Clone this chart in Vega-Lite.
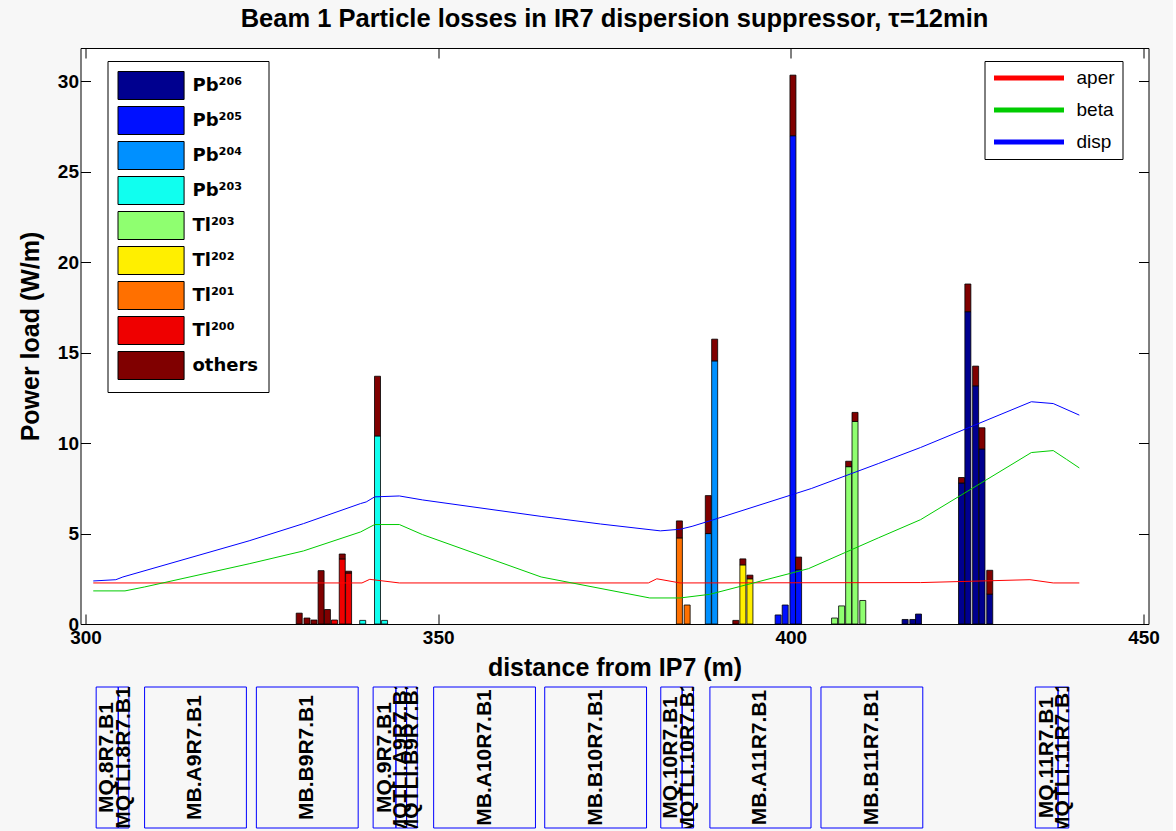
{
  "$schema": "https://vega.github.io/schema/vega-lite/v6.json",
  "background": "#f7f7f7",
  "padding": {"left": 17.5, "top": 6, "right": 12, "bottom": 5},
  "bounds": "flush",
  "spacing": 63,
  "title": {"text": "Beam 1 Particle losses in IR7 dispersion suppressor, τ=12min", "font": "Liberation Sans", "fontSize": 25.5, "fontWeight": "bold", "color": "black", "anchor": "middle", "frame": "group", "offset": 15},
  "config": {"font": "Liberation Sans"},
  "datasets": {
    "bars": [
      {"pos": 330.3, "sp": "others", "v": 0.6},
      {"pos": 331.4, "sp": "others", "v": 0.33},
      {"pos": 332.4, "sp": "others", "v": 0.22},
      {"pos": 333.4, "sp": "others", "v": 2.95},
      {"pos": 334.3, "sp": "others", "v": 0.8},
      {"pos": 335.3, "sp": "Tl²⁰⁰", "v": 0.22},
      {"pos": 336.4, "sp": "Tl²⁰⁰", "v": 3.6},
      {"pos": 336.4, "sp": "others", "v": 0.27},
      {"pos": 337.3, "sp": "Tl²⁰⁰", "v": 2.82},
      {"pos": 337.3, "sp": "others", "v": 0.1},
      {"pos": 339.3, "sp": "Pb²⁰³", "v": 0.2},
      {"pos": 341.4, "sp": "Pb²⁰³", "v": 10.4},
      {"pos": 341.4, "sp": "others", "v": 3.3},
      {"pos": 342.4, "sp": "Pb²⁰³", "v": 0.2},
      {"pos": 384.2, "sp": "Tl²⁰¹", "v": 4.76},
      {"pos": 384.2, "sp": "others", "v": 0.94},
      {"pos": 385.3, "sp": "Tl²⁰¹", "v": 1.05},
      {"pos": 388.3, "sp": "Pb²⁰⁴", "v": 5.0},
      {"pos": 388.3, "sp": "others", "v": 2.1},
      {"pos": 389.2, "sp": "Pb²⁰⁴", "v": 14.55},
      {"pos": 389.2, "sp": "others", "v": 1.2},
      {"pos": 392.2, "sp": "others", "v": 0.2},
      {"pos": 393.2, "sp": "Tl²⁰²", "v": 3.27},
      {"pos": 393.2, "sp": "others", "v": 0.33},
      {"pos": 394.2, "sp": "Tl²⁰²", "v": 2.5},
      {"pos": 394.2, "sp": "others", "v": 0.2},
      {"pos": 398.2, "sp": "Pb²⁰⁵", "v": 0.5},
      {"pos": 399.2, "sp": "Pb²⁰⁵", "v": 1.05},
      {"pos": 400.3, "sp": "Pb²⁰⁵", "v": 27.0},
      {"pos": 400.3, "sp": "others", "v": 3.35},
      {"pos": 401.1, "sp": "Pb²⁰⁵", "v": 3.0},
      {"pos": 401.1, "sp": "others", "v": 0.7},
      {"pos": 406.2, "sp": "Tl²⁰³", "v": 0.33},
      {"pos": 407.2, "sp": "Tl²⁰³", "v": 1.0},
      {"pos": 408.2, "sp": "Tl²⁰³", "v": 8.7},
      {"pos": 408.2, "sp": "others", "v": 0.3},
      {"pos": 409.1, "sp": "Tl²⁰³", "v": 11.2},
      {"pos": 409.1, "sp": "others", "v": 0.5},
      {"pos": 410.2, "sp": "Tl²⁰³", "v": 1.3},
      {"pos": 416.2, "sp": "Pb²⁰⁶", "v": 0.25},
      {"pos": 417.3, "sp": "Pb²⁰⁶", "v": 0.25},
      {"pos": 418.1, "sp": "Pb²⁰⁶", "v": 0.55},
      {"pos": 424.2, "sp": "Pb²⁰⁶", "v": 7.8},
      {"pos": 424.2, "sp": "others", "v": 0.3},
      {"pos": 425.1, "sp": "Pb²⁰⁶", "v": 17.27},
      {"pos": 425.1, "sp": "others", "v": 1.53},
      {"pos": 426.2, "sp": "Pb²⁰⁶", "v": 13.17},
      {"pos": 426.2, "sp": "others", "v": 1.09},
      {"pos": 427.1, "sp": "Pb²⁰⁶", "v": 9.68},
      {"pos": 427.1, "sp": "others", "v": 1.17},
      {"pos": 428.2, "sp": "Pb²⁰⁶", "v": 1.65},
      {"pos": 428.2, "sp": "others", "v": 1.32}
    ],
    "lines": [
      {"m": 301.1, "v": 2.27, "name": "aper"},
      {"m": 339.2, "v": 2.27, "name": "aper"},
      {"m": 340.3, "v": 2.47, "name": "aper"},
      {"m": 344.5, "v": 2.27, "name": "aper"},
      {"m": 379.8, "v": 2.27, "name": "aper"},
      {"m": 381.0, "v": 2.5, "name": "aper"},
      {"m": 384.3, "v": 2.27, "name": "aper"},
      {"m": 418.4, "v": 2.29, "name": "aper"},
      {"m": 433.9, "v": 2.45, "name": "aper"},
      {"m": 437.2, "v": 2.27, "name": "aper"},
      {"m": 440.9, "v": 2.27, "name": "aper"},
      {"m": 301.1, "v": 1.83, "name": "beta"},
      {"m": 305.6, "v": 1.83, "name": "beta"},
      {"m": 308.4, "v": 2.05, "name": "beta"},
      {"m": 323.2, "v": 3.33, "name": "beta"},
      {"m": 330.9, "v": 4.04, "name": "beta"},
      {"m": 339.0, "v": 5.09, "name": "beta"},
      {"m": 341.0, "v": 5.5, "name": "beta"},
      {"m": 344.5, "v": 5.5, "name": "beta"},
      {"m": 347.8, "v": 4.94, "name": "beta"},
      {"m": 364.6, "v": 2.6, "name": "beta"},
      {"m": 380.0, "v": 1.44, "name": "beta"},
      {"m": 384.3, "v": 1.44, "name": "beta"},
      {"m": 388.5, "v": 1.64, "name": "beta"},
      {"m": 402.5, "v": 3.06, "name": "beta"},
      {"m": 412.4, "v": 4.76, "name": "beta"},
      {"m": 418.4, "v": 5.77, "name": "beta"},
      {"m": 434.1, "v": 9.48, "name": "beta"},
      {"m": 437.2, "v": 9.59, "name": "beta"},
      {"m": 439.1, "v": 9.1, "name": "beta"},
      {"m": 440.9, "v": 8.63, "name": "beta"},
      {"m": 301.1, "v": 2.38, "name": "disp"},
      {"m": 304.3, "v": 2.45, "name": "disp"},
      {"m": 305.3, "v": 2.6, "name": "disp"},
      {"m": 323.2, "v": 4.6, "name": "disp"},
      {"m": 330.9, "v": 5.55, "name": "disp"},
      {"m": 339.0, "v": 6.66, "name": "disp"},
      {"m": 339.8, "v": 6.75, "name": "disp"},
      {"m": 341.0, "v": 7.03, "name": "disp"},
      {"m": 344.5, "v": 7.08, "name": "disp"},
      {"m": 347.8, "v": 6.86, "name": "disp"},
      {"m": 364.6, "v": 5.95, "name": "disp"},
      {"m": 373.0, "v": 5.53, "name": "disp"},
      {"m": 381.5, "v": 5.15, "name": "disp"},
      {"m": 384.3, "v": 5.24, "name": "disp"},
      {"m": 386.0, "v": 5.4, "name": "disp"},
      {"m": 388.9, "v": 5.75, "name": "disp"},
      {"m": 402.9, "v": 7.49, "name": "disp"},
      {"m": 412.4, "v": 8.87, "name": "disp"},
      {"m": 418.4, "v": 9.76, "name": "disp"},
      {"m": 434.1, "v": 12.29, "name": "disp"},
      {"m": 437.2, "v": 12.19, "name": "disp"},
      {"m": 440.9, "v": 11.55, "name": "disp"}
    ],
    "elems": [
      {"name": "MQ.8R7.B1", "s": 302.2, "e": 305.3, "c": 303.75},
      {"name": "MQTLI.8R7.B1", "s": 305.3, "e": 306.8, "c": 306.05},
      {"name": "MB.A9R7.B1", "s": 309.0, "e": 323.3, "c": 316.15},
      {"name": "MB.B9R7.B1", "s": 324.7, "e": 339.0, "c": 331.85},
      {"name": "MQ.9R7.B1", "s": 341.1, "e": 344.3, "c": 342.7},
      {"name": "MQTLI.A9R7.B1", "s": 344.3, "e": 345.8, "c": 345.05},
      {"name": "MQTLI.B9R7.B1", "s": 345.8, "e": 347.3, "c": 346.55},
      {"name": "MB.A10R7.B1", "s": 349.6, "e": 363.9, "c": 356.75},
      {"name": "MB.B10R7.B1", "s": 365.2, "e": 379.5, "c": 372.35},
      {"name": "MQ.10R7.B1", "s": 381.5, "e": 384.5, "c": 383.0},
      {"name": "MQTLI.10R7.B1", "s": 384.5, "e": 386.1, "c": 385.3},
      {"name": "MB.A11R7.B1", "s": 388.4, "e": 402.6, "c": 395.5},
      {"name": "MB.B11R7.B1", "s": 404.0, "e": 418.3, "c": 411.15},
      {"name": "MQ.11R7.B1", "s": 434.1, "e": 437.3, "c": 435.7},
      {"name": "MQTLI.11R7.B1", "s": 437.3, "e": 438.8, "c": 438.05}
    ]
  },
  "vconcat": [
    {
      "width": 1068,
      "height": 576,
      "view": {"fill": "white", "stroke": "black", "strokeWidth": 1},
      "layer": [
        {
          "data": {"name": "bars"},
          "mark": {"type": "bar", "size": 6, "stroke": "black", "strokeWidth": 0.8, "opacity": 1},
          "encoding": {
            "x": {"field": "pos", "type": "quantitative",
              "scale": {"domain": [300, 450], "nice": false, "zero": false},
              "axis": {"orient": "bottom", "values": [300, 350, 400, 450], "tickSize": -10, "tickColor": "black", "domain": false, "grid": false,
                "labelFontSize": 19, "labelFontWeight": "bold", "labelColor": "black", "labelPadding": 14, "labelFlush": false, "labelOverlap": false,
                "title": "distance from IP7 (m)", "titleFontSize": 25, "titleFontWeight": "bold", "titleColor": "black", "titlePadding": 8}},
            "y": {"field": "v", "type": "quantitative", "stack": "zero",
              "scale": {"domain": [0, 31.85], "nice": false},
              "axis": {"orient": "left", "values": [0, 5, 10, 15, 20, 25, 30], "tickSize": -10, "tickColor": "black", "domain": false, "grid": false,
                "labelFontSize": 19, "labelFontWeight": "bold", "labelColor": "black", "labelPadding": 12,
                "title": "Power load (W/m)", "titleFontSize": 25, "titleFontWeight": "bold", "titleColor": "black", "titleX": -50, "titleBaseline": "middle"}},
            "fill": {"field": "sp", "type": "nominal",
              "scale": {"domain": ["Pb²⁰⁶", "Pb²⁰⁵", "Pb²⁰⁴", "Pb²⁰³", "Tl²⁰³", "Tl²⁰²", "Tl²⁰¹", "Tl²⁰⁰", "others"],
                "range": ["#00008f", "#0010ff", "#0090ff", "#10ffef", "#8fff70", "#ffef00", "#ff7000", "#ef0000", "#800000"]},
              "legend": {"orient": "none", "legendX": 27, "legendY": 13, "title": null,
                "symbolType": "M-1,-1L3.72,-1L3.72,1L-1,1Z", "symbolSize": 784, "symbolStrokeColor": "black", "symbolStrokeWidth": 1, "symbolOpacity": 1,
                "labelFont": "DejaVu Sans", "labelFontSize": 18, "labelFontWeight": "bold", "labelColor": "black", "labelOffset": 46, "rowPadding": 2,
                "padding": 10, "strokeColor": "black", "fillColor": "white"}},
            "order": {"field": "sp", "sort": "ascending"}
          }
        },
        {
          "data": {"name": "lines"},
          "mark": {"type": "line", "strokeWidth": 1, "clip": true},
          "encoding": {
            "x": {"field": "m", "type": "quantitative",
              "axis": {"orient": "top", "values": [300, 350, 400, 450], "tickSize": -10, "tickColor": "black", "domain": false, "grid": false, "labels": false, "title": null}},
            "y": {"field": "v", "type": "quantitative",
              "axis": {"orient": "right", "values": [0, 5, 10, 15, 20, 25, 30], "tickSize": -10, "tickColor": "black", "domain": false, "grid": false, "labels": false, "title": null}},
            "stroke": {"field": "name", "type": "nominal",
              "scale": {"domain": ["aper", "beta", "disp"], "range": ["#ff0000", "#00cc00", "#0000ff"]},
              "legend": {"orient": "none", "legendX": 904, "legendY": 13, "title": null,
                "symbolType": "stroke", "symbolSize": 4900, "clipHeight": 20, "symbolStrokeWidth": 5, "symbolFillColor": "transparent",
                "labelFontSize": 19, "labelColor": "black", "labelOffset": 10, "rowPadding": 12,
                "padding": 7, "strokeColor": "black", "fillColor": "white"}}
          }
        }
      ]
    },
    {
      "width": 1068,
      "height": 141,
      "view": {"fill": null, "stroke": null},
      "data": {"name": "elems"},
      "layer": [
        {
          "mark": {"type": "rect", "fill": "transparent", "stroke": "#0000ff", "strokeWidth": 1},
          "encoding": {
            "x": {"field": "s", "type": "quantitative", "scale": {"domain": [300, 450], "nice": false, "zero": false}, "axis": null},
            "x2": {"field": "e"}
          }
        },
        {
          "mark": {"type": "text", "angle": 270, "fontWeight": "bold", "fontSize": 21, "color": "black", "align": "center", "baseline": "middle", "clip": true},
          "encoding": {
            "x": {"field": "c", "type": "quantitative"},
            "text": {"field": "name"}
          }
        }
      ]
    }
  ]
}
